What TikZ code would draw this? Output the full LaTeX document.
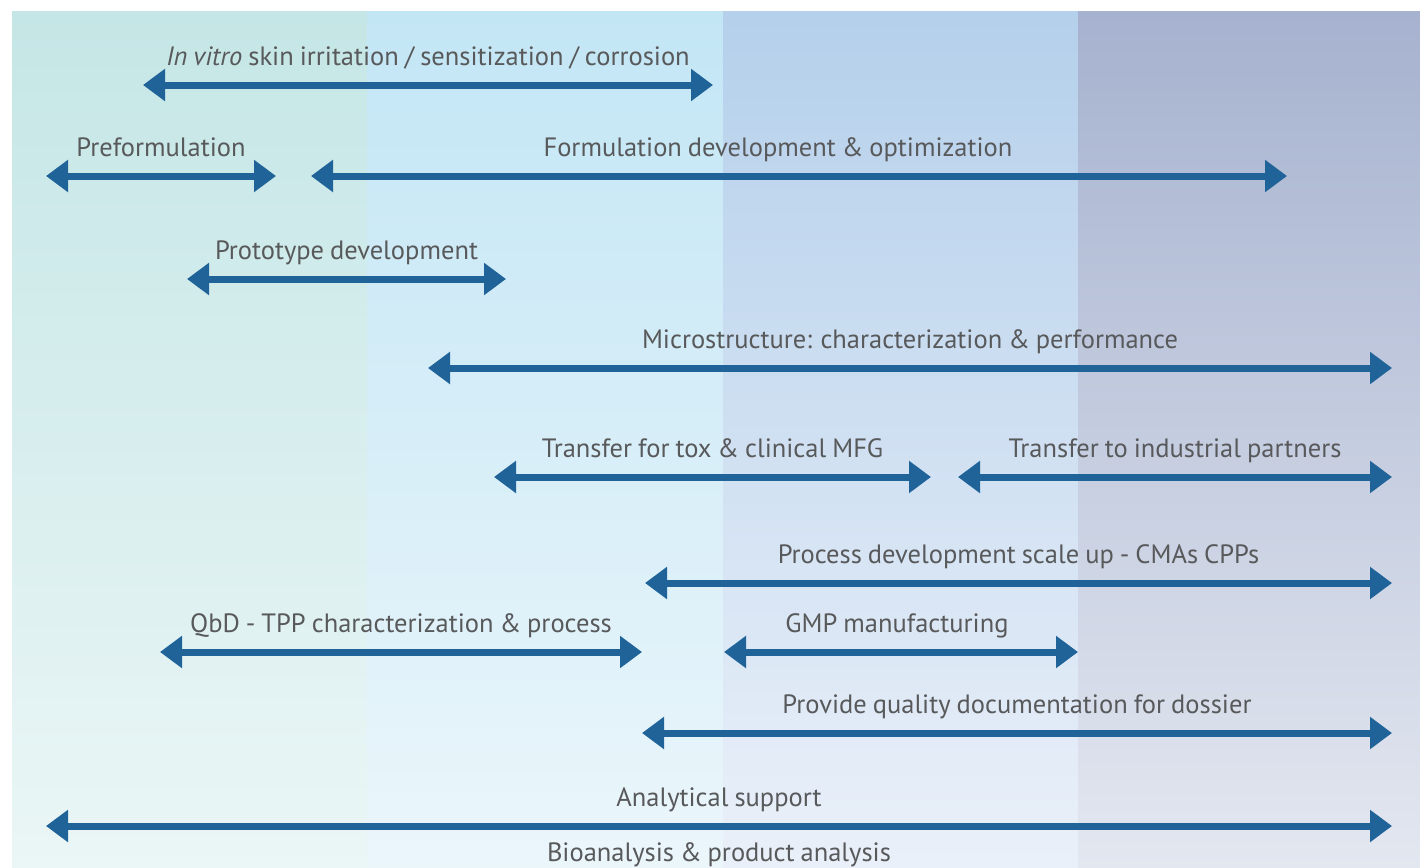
\documentclass[tikz,border=0pt]{standalone}
\usepackage{fontspec}
\setmainfont[WordSpace=0.85]{PT Sans}
\usetikzlibrary{arrows.meta,calc}
\definecolor{arrowblue}{HTML}{1F6399}
\definecolor{txtgray}{HTML}{58595B}
\definecolor{cAt}{HTML}{C5E6E6}\definecolor{cAb}{HTML}{EBF6F6}
\definecolor{cBt}{HTML}{C3E6F5}\definecolor{cBb}{HTML}{EBF6FB}
\definecolor{cCt}{HTML}{B5D0EB}\definecolor{cCb}{HTML}{EAF0F9}
\definecolor{cDt}{HTML}{A6B2CF}\definecolor{cDb}{HTML}{E3E7F0}
\tikzset{
  barrow/.style={draw=arrowblue, line width=7pt, {Triangle[length=22pt,width=31pt]}-{Triangle[length=22pt,width=31pt]}},
  lbl/.style={anchor=base, text=txtgray, font=\fontsize{26.5}{30}\selectfont, inner sep=0pt},
}
\begin{document}
\begin{tikzpicture}[x=1pt,y=-1pt]
\useasboundingbox (0,0) rectangle (1420,867);
% background columns
\shade[top color=cAt, bottom color=cAb] (12,12) rectangle (367,867);
\shade[top color=cBt, bottom color=cBb] (367,12) rectangle (723,867);
\shade[top color=cCt, bottom color=cCb] (723,12) rectangle (1078,867);
\shade[top color=cDt, bottom color=cDb] (1078,12) rectangle (1420,867);
% 1 In vitro
\coordinate (a1) at (143,85); \coordinate (b1) at (713,85);
\draw[barrow] (a1) -- (b1);
\node[lbl] (t1) at ($(a1)!0.5!(b1)+(0,-20)$) {\textit{In vitro} skin irritation / sensitization / corrosion};
% 2 Preformulation
\coordinate (a2) at (46,176); \coordinate (b2) at (276,176);
\draw[barrow] (a2) -- (b2);
\node[lbl] (t2) at ($(a2)!0.5!(b2)+(0,-20)$) {Preformulation};
% 3 Formulation
\coordinate (a3) at (311,176); \coordinate (b3) at (1287,176);
\draw[barrow] (a3) -- (b3);
\node[lbl] (t3) at (778,156) {Formulation development \& optimization};
% 4 Prototype
\coordinate (a4) at (187,279); \coordinate (b4) at (506,279);
\draw[barrow] (a4) -- (b4);
\node[lbl] (t4) at ($(a4)!0.5!(b4)+(0,-20)$) {Prototype development};
% 5 Microstructure
\coordinate (a5) at (428,368); \coordinate (b5) at (1392,368);
\draw[barrow] (a5) -- (b5);
\node[lbl] (t5) at ($(a5)!0.5!(b5)+(0,-20)$) {Microstructure: characterization \& performance};
% 6 Transfer tox
\coordinate (a6) at (494,477); \coordinate (b6) at (931,477);
\draw[barrow] (a6) -- (b6);
\node[lbl] (t6) at ($(a6)!0.5!(b6)+(0,-20)$) {Transfer for tox \& clinical MFG};
% 7 Transfer industrial
\coordinate (a7) at (958,477); \coordinate (b7) at (1392,477);
\draw[barrow] (a7) -- (b7);
\node[lbl] (t7) at ($(a7)!0.5!(b7)+(0,-20)$) {Transfer to industrial partners};
% 8 Process
\coordinate (a8) at (645,583); \coordinate (b8) at (1392,583);
\draw[barrow] (a8) -- (b8);
\node[lbl] (t8) at ($(a8)!0.5!(b8)+(0,-20)$) {Process development scale up - CMAs CPPs};
% 9 QbD
\coordinate (a9) at (160,652); \coordinate (b9) at (642,652);
\draw[barrow] (a9) -- (b9);
\node[lbl] (t9) at ($(a9)!0.5!(b9)+(0,-20)$) {QbD - TPP characterization \& process};
% 10 GMP
\coordinate (a10) at (724,652); \coordinate (b10) at (1078,652);
\draw[barrow] (a10) -- (b10);
\node[lbl] (t10) at (897,632) {GMP manufacturing};
% 11 Provide
\coordinate (a11) at (642,733); \coordinate (b11) at (1392,733);
\draw[barrow] (a11) -- (b11);
\node[lbl] (t11) at ($(a11)!0.5!(b11)+(0,-20)$) {Provide quality documentation for dossier};
% 12 Analytical
\coordinate (a12) at (46,826); \coordinate (b12) at (1392,826);
\draw[barrow] (a12) -- (b12);
\node[lbl] (t12) at ($(a12)!0.5!(b12)+(0,-20)$) {Analytical support};
\node[lbl] (t13) at ($(a12)!0.5!(b12)+(0,35)$) {Bioanalysis \& product analysis};
\end{tikzpicture}
\end{document}
